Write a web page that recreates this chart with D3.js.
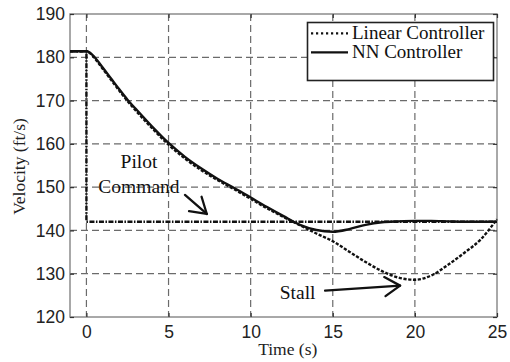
<!DOCTYPE html>
<html>
<head>
<meta charset="utf-8">
<script src="https://cdn.jsdelivr.net/npm/d3@7"></script>
<style>
  html, body { margin: 0; padding: 0; background: #fff; }
  svg { display: block; }
  .serif { font-family: "Liberation Serif"; }
  .sans { font-family: "Liberation Sans"; }
</style>
</head>
<body>
<svg id="chart" width="510" height="362"></svg>
<script>
// Time samples (s)
const time = [-1, 0, 0.2, 0.5, 1, 1.5, 2, 2.5, 3, 4, 5, 6, 7, 8, 9, 10, 11, 12, 13, 14, 15, 16, 17, 18, 19, 20, 21, 22, 23, 24, 25];
// Velocity responses (ft/s)
const nnVelocity = [181.4, 181.4, 181.1, 180.0, 177.6, 175.1, 172.6, 170.2, 168.1, 164.0, 160.2, 157.0, 154.3, 151.9, 149.8, 147.6, 145.4, 143.3, 141.3, 140.1, 139.7, 140.3, 141.3, 141.9, 142.1, 142.2, 142.2, 142.1, 142.0, 142.0, 142.0];
const linearVelocity = [181.4, 181.4, 181.0, 179.8, 177.3, 174.8, 172.3, 169.9, 167.7, 163.6, 159.8, 156.6, 153.9, 151.6, 149.5, 147.3, 145.1, 143.1, 141.2, 139.3, 137.5, 135.1, 132.7, 130.6, 129.1, 128.6, 129.6, 132.0, 134.8, 137.9, 142.6];
// Pilot command step
const commandTime = [-1, 0, 0, 25];
const commandVelocity = [181.4, 181.4, 142.0, 142.0];

// Axis ticks
const xTicks = [0, 5, 10, 15, 20, 25];
const yTicks = [120, 130, 140, 150, 160, 170, 180, 190];

// Legend entries
const legendLabels = ["Linear Controller", "NN Controller"];

// Annotations (data units)
const annotations = [
  { lines: ["Pilot", "Command"], t: 3.2, v: [154.4, 148.7], from: [6.0, 148.2], to: [7.33, 143.8] },
  { lines: ["Stall"], t: 12.86, v: [124.1], from: [14.53, 126.1], to: [19.1, 127.25] }
];

const svg = d3.select("#chart");
const plotLeft = 70, plotRight = 497, plotTop = 14, plotBottom = 317;

const x = d3.scaleLinear().domain([-1, 25]).range([plotLeft, plotRight]);
const y = d3.scaleLinear().domain([120, 190]).range([plotBottom, plotTop]);

// Grid
const grid = svg.append("g")
  .attr("stroke", "#6b6b6b").attr("stroke-width", 1.2)
  .attr("stroke-dasharray", "7,4");
grid.selectAll("line.gx").data(xTicks.filter(d => d < 25)).join("line")
  .attr("class", "gx")
  .attr("x1", d => x(d)).attr("x2", d => x(d))
  .attr("y1", plotTop).attr("y2", plotBottom);
grid.selectAll("line.gy").data(yTicks.filter(d => d > 120 && d < 190)).join("line")
  .attr("class", "gy")
  .attr("x1", plotLeft).attr("x2", plotRight)
  .attr("y1", d => y(d)).attr("y2", d => y(d));

// Frame
svg.append("rect")
  .attr("x", plotLeft).attr("y", plotTop)
  .attr("width", plotRight - plotLeft).attr("height", plotBottom - plotTop)
  .attr("fill", "none").attr("stroke", "#8c8c8c").attr("stroke-width", 1.5);

// Axes with inward ticks
const xAxis = svg.append("g").attr("transform", `translate(0,${plotBottom})`)
  .call(d3.axisBottom(x).tickValues(xTicks).tickSizeInner(-4).tickSizeOuter(0).tickPadding(9));
const xAxisTop = svg.append("g").attr("transform", `translate(0,${plotTop})`)
  .call(d3.axisTop(x).tickValues(xTicks).tickSizeInner(-4).tickSizeOuter(0).tickFormat(""));
const yAxis = svg.append("g").attr("transform", `translate(${plotLeft},0)`)
  .call(d3.axisLeft(y).tickValues(yTicks).tickSizeInner(-4).tickSizeOuter(0).tickPadding(5));
const yAxisRight = svg.append("g").attr("transform", `translate(${plotRight},0)`)
  .call(d3.axisRight(y).tickValues(yTicks).tickSizeInner(-4).tickSizeOuter(0).tickFormat(""));

[xAxis, xAxisTop, yAxis, yAxisRight].forEach(g => {
  g.attr("font-family", null).attr("font-size", null);
  g.select(".domain").remove();
  g.selectAll(".tick line").attr("stroke", "#333").attr("stroke-width", 1.2);
  g.selectAll("text")
    .attr("class", "sans")
    .style("font-size", "17.5px").attr("fill", "#222");
});
xAxis.selectAll("text").attr("dy", "0.71em");

// Axis titles
svg.append("text")
  .attr("class", "serif")
  .attr("x", (x(0) + x(25)) / 2 - 4).attr("y", 355)
  .attr("text-anchor", "middle")
  .style("font-size", "17.5px").attr("fill", "#222")
  .text("Time (s)");
svg.append("text")
  .attr("class", "serif")
  .attr("transform", `translate(25,${(plotTop + plotBottom) / 2 + 1}) rotate(-90)`)
  .attr("text-anchor", "middle")
  .style("font-size", "17.5px").attr("fill", "#222")
  .text("Velocity (ft/s)");

// Curves
const lineGen = d3.line().x(d => x(d[0])).y(d => y(d[1])).curve(d3.curveMonotoneX);
const straight = d3.line().x(d => x(d[0])).y(d => y(d[1]));

svg.append("path")
  .datum(commandTime.map((t, i) => [t, commandVelocity[i]]))
  .attr("d", straight)
  .attr("fill", "none").attr("stroke", "#111").attr("stroke-width", 2.4)
  .attr("stroke-dasharray", "5,1.5,1.5,1.5");

svg.append("path")
  .datum(time.map((t, i) => [t, linearVelocity[i]]))
  .attr("d", lineGen)
  .attr("fill", "none").attr("stroke", "#111").attr("stroke-width", 2.4)
  .attr("stroke-dasharray", "3.2,1.6");

svg.append("path")
  .datum(time.map((t, i) => [t, nnVelocity[i]]))
  .attr("d", lineGen)
  .attr("fill", "none").attr("stroke", "#111").attr("stroke-width", 2.4);

// Annotations with open arrowheads
annotations.forEach(a => {
  a.lines.forEach((txt, i) => {
    svg.append("text")
      .attr("class", "serif")
      .attr("x", x(a.t)).attr("y", y(a.v[i]))
      .attr("text-anchor", "middle")
      .style("font-size", "19.5px").attr("fill", "#111")
      .text(txt);
  });
  const x0 = x(a.from[0]), y0 = y(a.from[1]);
  const x1 = x(a.to[0]), y1 = y(a.to[1]);
  const ang = Math.atan2(y1 - y0, x1 - x0);
  const len = 18, spread = 32 * Math.PI / 180;
  const g = svg.append("g").attr("stroke", "#111").attr("stroke-width", 2.3)
    .attr("fill", "none").attr("stroke-linecap", "round").attr("stroke-linejoin", "round");
  g.append("line").attr("x1", x0).attr("y1", y0).attr("x2", x1).attr("y2", y1);
  g.append("polyline").attr("points", [
    [x1 - len * Math.cos(ang - spread), y1 - len * Math.sin(ang - spread)],
    [x1, y1],
    [x1 - len * Math.cos(ang + spread), y1 - len * Math.sin(ang + spread)]
  ].map(p => p.join(",")).join(" "));
});

// Legend
const legend = svg.append("g");
legend.append("rect")
  .attr("x", 307.5).attr("y", 22.5).attr("width", 186).attr("height", 58)
  .attr("fill", "#fff").attr("stroke", "#222").attr("stroke-width", 1.6);
const legendStyles = ["2.2,2.8", null];
legendLabels.forEach((label, i) => {
  const ly = 33.3 + i * 19;
  const l = legend.append("line")
    .attr("x1", 311).attr("x2", 348).attr("y1", ly).attr("y2", ly)
    .attr("stroke", "#111").attr("stroke-width", 2.2);
  if (legendStyles[i]) l.attr("stroke-dasharray", legendStyles[i]);
  legend.append("text")
    .attr("class", "serif")
    .attr("x", 352).attr("y", ly + 6)
    .style("font-size", "19px").attr("fill", "#111")
    .text(label);
});
</script>
</body>
</html>
